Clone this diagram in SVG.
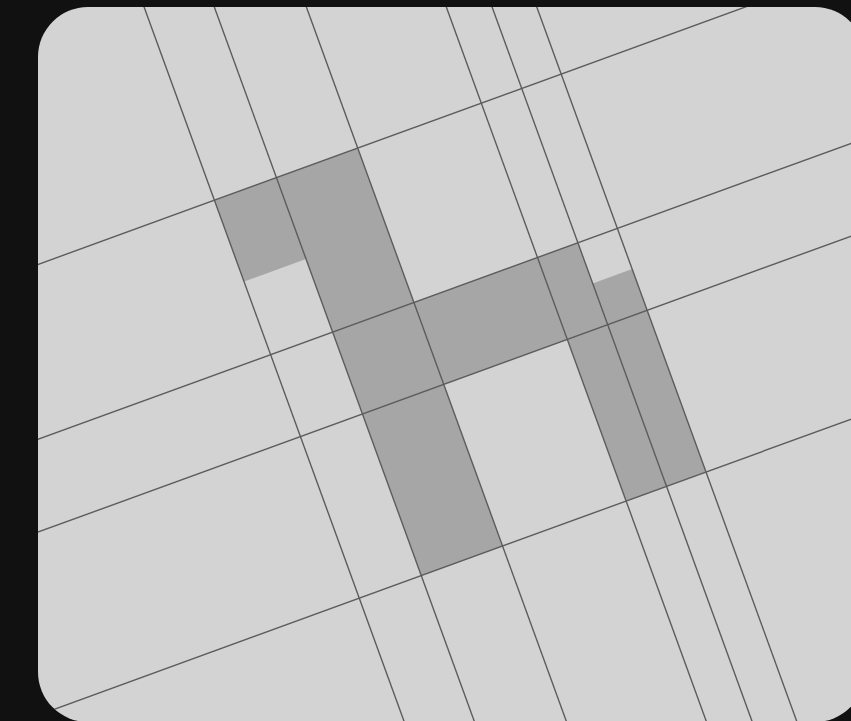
<svg xmlns="http://www.w3.org/2000/svg" width="851" height="721" viewBox="0 0 851 721">
  <defs>
    <clipPath id="panel">
      <rect x="38" y="7" width="827" height="715" rx="50" ry="50"/>
    </clipPath>
    <style>
      .shade { fill: #a6a6a6; }
      .grid line { stroke: #5c5c5c; stroke-width: 1.4; }
    </style>
  </defs>
  <rect x="0" y="0" width="851" height="721" fill="#111111"/>
  <rect x="38" y="7" width="827" height="715" rx="50" ry="50" fill="#d3d3d3"/>
  <g clip-path="url(#panel)">
    <g transform="rotate(-20)">
      <g id="shading">
        <rect class="shade" x="133" y="261.5" width="66" height="86.5"/>
        <rect class="shade" x="199" y="261.5" width="86.5" height="423.5"/>
        <rect class="shade" x="285.5" y="425.8" width="131.5" height="87.2"/>
        <rect class="shade" x="417" y="425.8" width="43" height="259.2"/>
        <rect class="shade" x="460" y="469" width="42" height="216"/>
      </g>
      <g id="grid" class="grid">
        <line x1="-400" y1="261.5" x2="900" y2="261.5"/>
        <line x1="-400" y1="425.8" x2="900" y2="425.8"/>
        <line x1="-400" y1="513" x2="900" y2="513"/>
        <line x1="-400" y1="685" x2="900" y2="685"/>
        <line x1="133" y1="-100" x2="133" y2="1100"/>
        <line x1="199" y1="-100" x2="199" y2="1100"/>
        <line x1="285.5" y1="-100" x2="285.5" y2="1100"/>
        <line x1="417" y1="-100" x2="417" y2="1100"/>
        <line x1="460" y1="-100" x2="460" y2="1100"/>
        <line x1="502" y1="-100" x2="502" y2="1100"/>
      </g>
    </g>
  </g>
</svg>
